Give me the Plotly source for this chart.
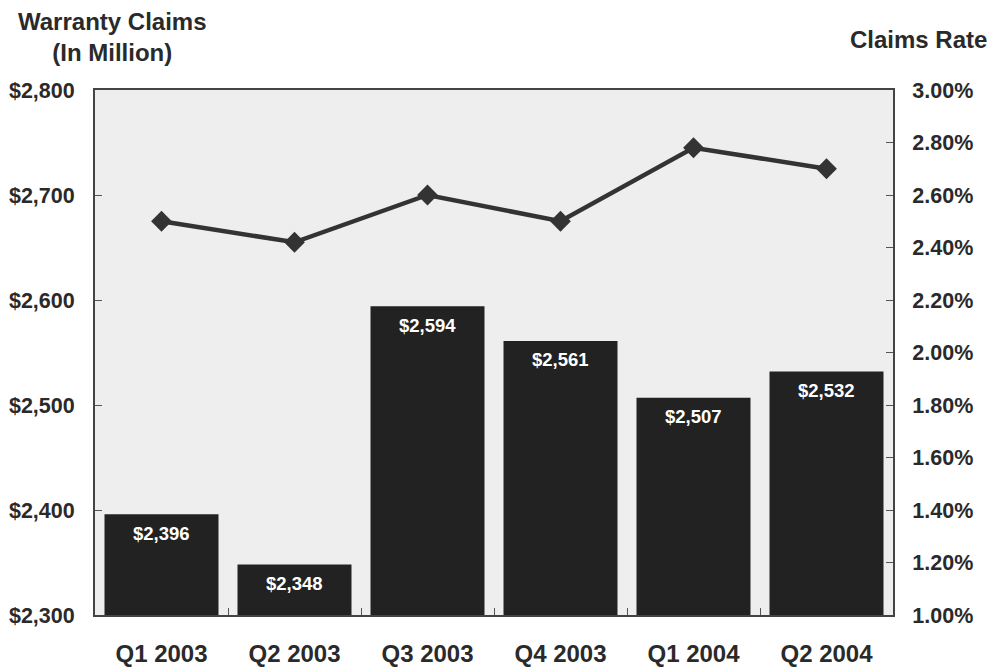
import plotly.graph_objects as go

quarters = ["Q1 2003", "Q2 2003", "Q3 2003", "Q4 2003", "Q1 2004", "Q2 2004"]
claims = [2396, 2348, 2594, 2561, 2507, 2532]          # $ million
claims_rate = [2.50, 2.42, 2.60, 2.50, 2.78, 2.70]      # percent

left_ticks = [2300, 2400, 2500, 2600, 2700, 2800]
right_ticks = [1.0, 1.2, 1.4, 1.6, 1.8, 2.0, 2.2, 2.4, 2.6, 2.8, 3.0]

FONT = "Liberation Sans"
BAR = "#222222"
LINE = "#333333"
INK = "#2a2a2a"

W, H = 994, 667
ML, MR, MT, MB = 95, 101, 90, 52
pw, ph = W - ML - MR, H - MT - MB


def paper_x(px):
    return (px - ML) / pw


def paper_y(py):
    return (H - MB - py) / ph


fig = go.Figure()

fig.add_trace(go.Bar(
    x=quarters, y=claims,
    marker=dict(color=BAR, line=dict(width=0)),
    hoverinfo="skip",
    yaxis="y",
))

fig.add_trace(go.Scatter(
    x=quarters, y=claims_rate,
    mode="lines+markers",
    line=dict(color=LINE, width=4.5),
    marker=dict(symbol="diamond", size=16, color=LINE),
    yaxis="y2",
))

# value labels just inside the top of each bar
for q, v in zip(quarters, claims):
    fig.add_annotation(
        x=q, y=v, xref="x", yref="y",
        text=f"<b>${v:,}</b>", showarrow=False,
        yanchor="middle", yshift=-19,
        font=dict(family=FONT, size=18.5, color="white"),
    )

# axis titles above each value axis
fig.add_annotation(
    x=paper_x(112), y=paper_y(6), xref="paper", yref="paper",
    xanchor="center", yanchor="top",
    text="<b>Warranty Claims<br>(In Million)</b>", showarrow=False,
    font=dict(family=FONT, size=24, color=INK),
)
fig.add_annotation(
    x=paper_x(918), y=paper_y(24), xref="paper", yref="paper",
    xanchor="center", yanchor="top",
    text="<b>Claims Rate</b>", showarrow=False,
    font=dict(family=FONT, size=24, color=INK),
)

fig.update_layout(
    width=W, height=H,
    margin=dict(l=ML, r=MR, t=MT, b=MB, autoexpand=False),
    paper_bgcolor="white",
    plot_bgcolor="#eeeeee",
    showlegend=False,
    bargap=0.143,
    font=dict(family=FONT, color=INK),
    xaxis=dict(
        type="category", automargin=False,
        tickvals=quarters,
        ticktext=[f"<b>{q}</b>" for q in quarters],
        showline=True, linecolor="#444", linewidth=2, mirror=True,
        ticks="inside", tickson="boundaries", ticklen=7, tickcolor="#555",
        tickfont=dict(family=FONT, size=24, color=INK),
        showgrid=False,
        ticklabelstandoff=16,
    ),
    yaxis=dict(
        automargin=False,
        range=[2300, 2800],
        tickvals=left_ticks,
        ticktext=[f"<b>${t:,}</b>" for t in left_ticks],
        showline=True, linecolor="#444", linewidth=2,
        ticks="inside", ticklen=7, tickcolor="#555",
        tickfont=dict(family=FONT, size=21.5, color=INK),
        showgrid=False, zeroline=False,
        ticklabelstandoff=14,
    ),
    yaxis2=dict(
        automargin=False,
        overlaying="y", side="right",
        range=[1.0, 3.0],
        tickvals=right_ticks,
        ticktext=[f"<b>{t:.2f}%</b>" for t in right_ticks],
        showline=True, linecolor="#444", linewidth=2,
        ticks="inside", ticklen=7, tickcolor="#555",
        tickfont=dict(family=FONT, size=21.5, color=INK),
        showgrid=False, zeroline=False,
        ticklabelstandoff=13,
    ),
)

fig.write_html("out.html")
